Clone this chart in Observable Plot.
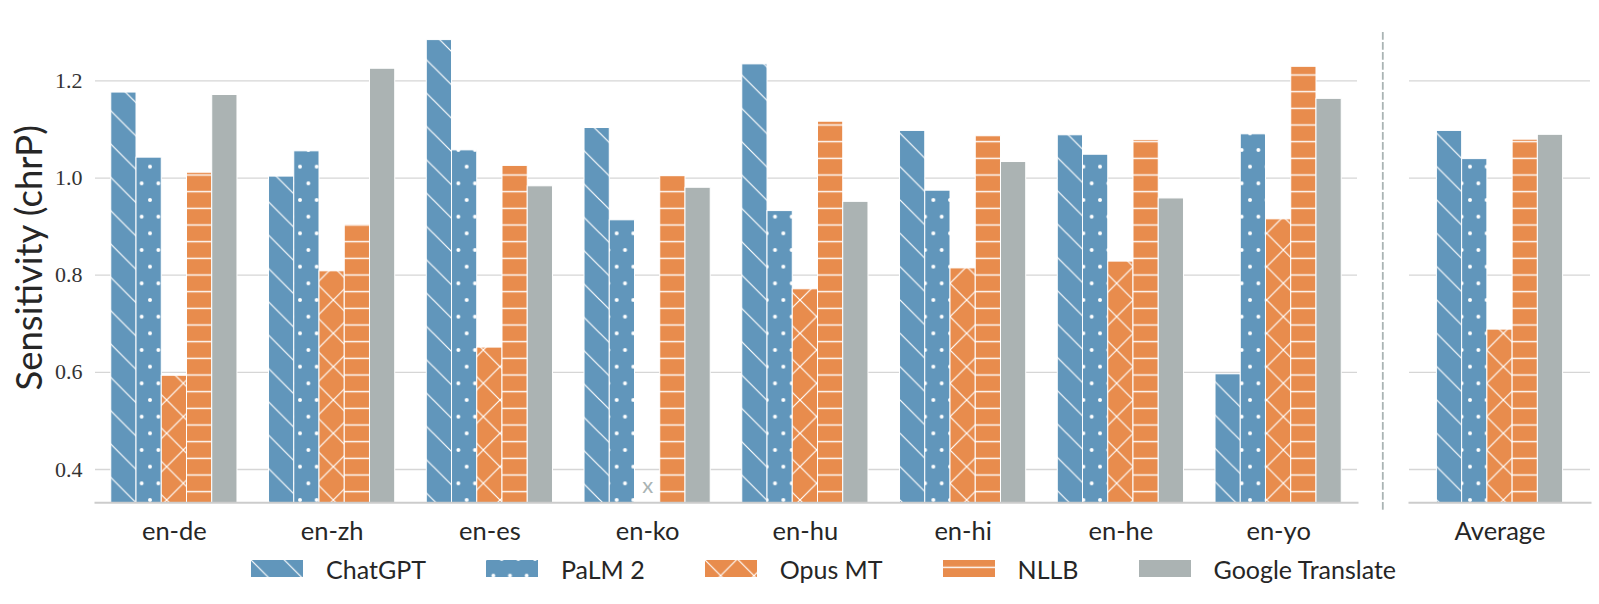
<!DOCTYPE html>
<html>
<head>
<meta charset="utf-8">
<script src="https://cdn.jsdelivr.net/npm/d3@7"></script>
<script src="https://cdn.jsdelivr.net/npm/@observablehq/plot@0.6"></script>
<style>
  body { margin: 0; background: #fff; font-family: Lato, "Noto Sans", sans-serif; }
  #wrap { position: relative; width: 1599px; height: 604px; overflow: hidden; }
  #left { position: absolute; left: 0; top: 0; }
  #right { position: absolute; left: 1370px; top: 0; }
  #legend { position: absolute; left: 250px; top: 553.5px; height: 30px; display: flex; align-items: center;
            font-size: 25px; color: #262626; white-space: nowrap; }
  .item { display: flex; align-items: center; margin-right: 59px; height: 30px; }
  .item svg { margin-right: 22px; display: block; }
</style>
</head>
<body>
<svg width="0" height="0" style="position:absolute">
  <defs>
    <pattern id="pat0" patternUnits="userSpaceOnUse" width="33.333" height="33.333">
      <rect width="33.333" height="33.333" fill="#6196bb"/>
      <path d="M-3,-3 L36.333,36.333 M-10,23.333 L10,43.333 M23.333,-10 L43.333,10" stroke="#fff" stroke-width="1.2"/>
    </pattern>
    <pattern id="pat1" patternUnits="userSpaceOnUse" width="16.667" height="33.333">
      <rect width="16.667" height="33.333" fill="#6196bb"/>
      <circle cx="0" cy="0" r="2" fill="#fff"/><circle cx="16.667" cy="0" r="2" fill="#fff"/>
      <circle cx="0" cy="33.333" r="2" fill="#fff"/><circle cx="16.667" cy="33.333" r="2" fill="#fff"/>
      <circle cx="8.333" cy="16.667" r="2" fill="#fff"/>
    </pattern>
    <pattern id="pat2" patternUnits="userSpaceOnUse" width="33.333" height="33.333">
      <rect width="33.333" height="33.333" fill="#e88c4d"/>
      <path d="M-3,-3 L36.333,36.333 M-10,23.333 L10,43.333 M23.333,-10 L43.333,10
               M-3,36.333 L36.333,-3 M-10,10 L10,-10 M23.333,43.333 L43.333,23.333" stroke="#fff" stroke-width="1.2"/>
    </pattern>
    <pattern id="pat3" patternUnits="userSpaceOnUse" width="20" height="16.667">
      <rect width="20" height="16.667" fill="#e88c4d"/>
      <path d="M-1,8.333 L21,8.333" stroke="#fff" stroke-width="1.4"/>
    </pattern>
    <pattern id="pat4" patternUnits="userSpaceOnUse" width="20" height="20">
      <rect width="20" height="20" fill="#abb3b3"/>
    </pattern>
  </defs>
</svg>
<div id="wrap">
  <div id="left"></div>
  <div id="right"></div>
  <div id="legend"></div>
</div>
<script>
// ---- data ----
const pairs = ["en-de", "en-zh", "en-es", "en-ko", "en-hu", "en-hi", "en-he", "en-yo"];
const models = ["ChatGPT", "PaLM 2", "Opus MT", "NLLB", "Google Translate"];
const chatgpt = [1.176, 1.003, 1.284, 1.103, 1.234, 1.097, 1.088, 0.596];
const palm2   = [1.042, 1.055, 1.057, 0.913, 0.932, 0.974, 1.048, 1.090];
const opusmt  = [0.593, 0.808, 0.651, null, 0.771, 0.814, 0.828, 0.915];
const nllb    = [1.011, 0.904, 1.025, 1.004, 1.116, 1.086, 1.078, 1.229];
const google  = [1.171, 1.225, 0.983, 0.980, 0.951, 1.033, 0.958, 1.163];
const averageLabel = "Average";
const average = [1.097, 1.039, 0.688, 1.079, 1.089];
const yTicks = [0.4, 0.6, 0.8, 1.0, 1.2];
const yDomain = [0.3315, 1.299];
const yLabel = "Sensitivity (chrP)";
const missingMarker = "x";

const series = [chatgpt, palm2, opusmt, nllb, google];
const patterns = models.map((m, i) => `url(#pat${i})`);

const rows = [];
pairs.forEach((p, j) => models.forEach((m, i) => rows.push({pair: p, model: m, idx: i, value: series[i][j]})));
const avgRows = models.map((m, i) => ({pair: averageLabel, model: m, idx: i, value: average[i]}));

// ---- layout ----
const H = 548, mT = 32.3, mB = H - 502.3;
const WL = 1370, mLL = 95, mRL = 13;
const WR = 229, mLR = 39, mRR = 9;
const band = d3.scaleBand().domain(pairs).range([mLL, WL - mRL]).paddingInner(0.2).paddingOuter(0.1);
const bw = band.bandwidth();
const slot = bw / 5;

const textCol = "#262626";
const gridCol = "#d6d6d6";
const axisCol = "#cccccc";

function barMarks(data, extra) {
  return models.map((m, i) => Plot.barY(data.filter(d => d.model === m && d.value != null), {
    x: "pair", y1: 0, y2: "value",
    fill: patterns[i], stroke: "#fff", strokeWidth: 1,
    insetLeft: extra + i * slot, insetRight: extra + (4 - i) * slot,
    clip: true
  }));
}

const missing = rows.filter(d => d.value == null);
const markerDx = missing.length ? (missing[0].idx - 2) * slot : 0;

const left = Plot.plot({
  width: WL, height: H,
  marginLeft: mLL, marginRight: mRL, marginTop: mT, marginBottom: mB,
  x: {domain: pairs, paddingInner: 0.2, paddingOuter: 0.1, round: false, axis: null},
  y: {domain: yDomain, axis: null},
  style: {background: "transparent", overflow: "visible"},
  marks: [
    Plot.gridY(yTicks, {stroke: gridCol, strokeOpacity: 1, strokeWidth: 1.3}),
    ...barMarks(rows, 0),
    Plot.text(missing, {
      x: "pair", text: () => missingMarker, frameAnchor: "bottom", textAnchor: "middle",
      dx: markerDx, dy: -10, fill: "#aab4b4", fontSize: 22, fontFamily: "Lato"
    }),
    Plot.frame({anchor: "bottom", stroke: axisCol, strokeWidth: 2}),
    Plot.axisY({ticks: yTicks, tickSize: 0, tickPadding: 13, tickFormat: d3.format(".1f"),
      fontSize: 22, fontFamily: "Liberation Serif", fill: "#333", label: null}),
    Plot.axisX({tickSize: 0, tickPadding: 19, fontSize: 25.5, fontFamily: "Lato", fill: textCol, label: null}),
    Plot.text([yLabel], {text: d => d, frameAnchor: "left", textAnchor: "middle", rotate: -90, dx: -65, dy: -10,
      fontSize: 36.5, fontFamily: "Lato", fill: textCol})
  ]
});
document.getElementById("left").appendChild(left);

const rightInner = WR - mLR - mRR;
const offset = (rightInner - bw) / 2;
const right = Plot.plot({
  width: WR, height: H,
  marginLeft: mLR, marginRight: mRR, marginTop: mT, marginBottom: mB,
  x: {domain: [averageLabel], padding: 0, round: false, axis: null},
  y: {domain: yDomain, axis: null},
  style: {background: "transparent", overflow: "visible"},
  marks: [
    Plot.gridY(yTicks, {stroke: gridCol, strokeOpacity: 1, strokeWidth: 1.3}),
    ...barMarks(avgRows, offset),
    Plot.frame({anchor: "bottom", stroke: axisCol, strokeWidth: 2}),
    Plot.frame({anchor: "left", dx: -26.7, insetBottom: -8.7, stroke: "#aab4b4", strokeWidth: 1.8, strokeDasharray: "6,4"}),
    Plot.axisX({tickSize: 0, tickPadding: 19, fontSize: 25.5, fontFamily: "Lato", fill: textCol, label: null})
  ]
});
document.getElementById("right").appendChild(right);

// ---- legend ----
const legend = d3.select("#legend");
models.forEach((m, i) => {
  const it = legend.append("div").attr("class", "item");
  const s = it.append("svg").attr("width", 54).attr("height", 19);
  s.append("rect").attr("x", 0.5).attr("y", 0.5).attr("width", 53).attr("height", 18)
    .attr("fill", patterns[i]).attr("stroke", "#fff").attr("stroke-width", 1);
  it.append("span").text(m);
});
</script>
</body>
</html>
